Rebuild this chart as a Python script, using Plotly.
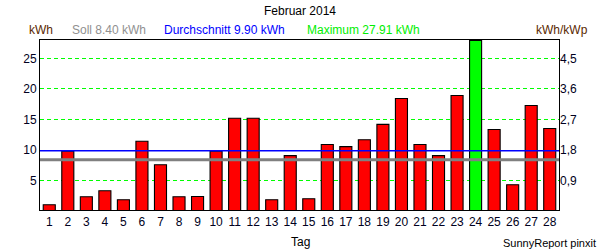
import plotly.graph_objects as go

days = list(range(1, 29))
energy = [1.06, 9.8, 2.37, 3.35, 1.88, 11.44, 7.6, 2.37, 2.4, 9.8,
          15.2, 15.2, 1.88, 9.1, 2.05, 10.9, 10.57, 11.7, 14.2, 18.44,
          10.9, 9.1, 18.93, 27.91, 13.36, 4.34, 17.3, 13.52]
soll = 8.40
avg = 9.90
maximum = 27.91
kwp = 25 / 4.5
right_ticks = [0.9, 1.8, 2.7, 3.6, 4.5]
right_labels = ["0,9", "1,8", "2,7", "3,6", "4,5"]
left_ticks = [5, 10, 15, 20, 25]

y_range = [0.2, 28.0]

colors = ["#00ff00" if v == maximum else "#ff0000" for v in energy]

fig = go.Figure()
fig.add_trace(go.Bar(x=days, y=energy, marker=dict(color=colors, line=dict(color="black", width=1.1)),
                     width=0.65, showlegend=False))
fig.add_trace(go.Scatter(x=[0.5, 28.5], y=[soll, soll], mode="lines",
                         line=dict(color="#808080", width=3), showlegend=False))
fig.add_trace(go.Scatter(x=[0.5, 28.5], y=[avg, avg], mode="lines",
                         line=dict(color="#0000ff", width=1.5), showlegend=False))
fig.add_trace(go.Scatter(x=[1], y=[1], yaxis="y2", mode="markers", marker=dict(opacity=0),
                         showlegend=False, hoverinfo="skip"))

font = "Liberation Sans, Arial, sans-serif"
fig.update_layout(
    width=600, height=250,
    margin=dict(l=40, r=41, t=40, b=40, autoexpand=False),
    paper_bgcolor="white", plot_bgcolor="white",
    font=dict(family=font, size=12, color="black"),
    xaxis=dict(range=[0.5, 28.5], tickvals=days, ticktext=[str(d) for d in days],
               showgrid=False, showline=True, linecolor="black", linewidth=1, mirror=True,
               ticks="", ticklabelstandoff=1, tickfont=dict(size=12, color="#000020"),
               zeroline=False, automargin=False),
    yaxis=dict(range=y_range, tickvals=left_ticks, showgrid=True, gridcolor="#00ff00",
               griddash="4px,3px", gridwidth=1, showline=True, linecolor="black", linewidth=1,
               mirror=True, ticks="", zeroline=False, tickfont=dict(size=12, color="#000020"),
               automargin=False),
    yaxis2=dict(range=[y_range[0] / kwp, y_range[1] / kwp], overlaying="y", side="right",
                tickvals=right_ticks, ticktext=right_labels, showgrid=False, zeroline=False,
                ticks="", tickfont=dict(size=12, color="#000020"), automargin=False),
)

px = lambda p: (p - 40) / 519.0

fig.add_annotation(text="Februar 2014", xref="paper", yref="paper", x=px(300), y=1.0,
                   yshift=38, yanchor="top", showarrow=False, font=dict(size=12, color="black"))

def hdr(text, x, color, anchor="left"):
    fig.add_annotation(text=text, xref="paper", yref="paper", x=x, y=1.0, yshift=1,
                       xanchor=anchor, yanchor="bottom", showarrow=False,
                       font=dict(size=12, color=color))

hdr("kWh", px(27), "#5a2800")
hdr(f"Soll {soll:.2f} kWh", px(70), "#909090")
hdr(f"Durchschnitt {avg:.2f} kWh", px(162), "#0000ff")
hdr(f"Maximum {maximum:.2f} kWh", px(305), "#00ee00")
hdr("kWh/kWp", px(590), "#5a2800", anchor="right")

fig.add_annotation(text="Tag", xref="paper", yref="paper", x=px(300), y=0,
                   yshift=-41, yanchor="bottom", showarrow=False,
                   font=dict(size=12, color="black"))
fig.add_annotation(text="SunnyReport pinxit", xref="paper", yref="paper", x=px(598), y=0,
                   yshift=-41, xanchor="right", yanchor="bottom", showarrow=False,
                   font=dict(size=11, color="black"))

fig.write_html("out.html")
